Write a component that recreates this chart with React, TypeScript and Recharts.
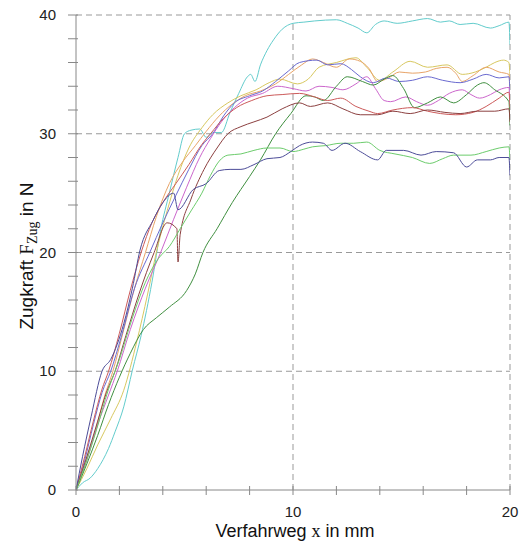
import { LineChart, Line, XAxis, YAxis, ReferenceLine } from "recharts";

const xTicks = [0, 2, 4, 6, 8, 10, 12, 14, 16, 18, 20];
const yTicks = [0, 2, 4, 6, 8, 10, 12, 14, 16, 18, 20, 22, 24, 26, 28, 30, 32, 34, 36, 38, 40];
const xLabels = [0, 10, 20];
const yLabels = [0, 10, 20, 30, 40];
const gridX = [10, 20];
const gridY = [10, 20, 30, 40];

type P = [number, number];

const cyan: P[] = [[0,0],[0.3,0.6],[0.65,1],[1,1.8],[1.5,3.5],[1.8,4.9],[2.2,7],[2.6,10.1],[3,13],[3.5,17.5],[3.9,21.9],[4.3,25],[4.7,28],[5,30],[5.3,30.3],[5.7,30.4],[6,29.7],[6.3,30.1],[6.7,30.1],[7.1,31.8],[7.5,33.4],[7.9,34.8],[8.05,35],[8.25,34.4],[8.5,35.8],[8.8,37],[9.1,37.9],[9.5,38.8],[10,39.3],[10.5,39.4],[11,39.5],[12,39.6],[12.5,39.3],[13,38.9],[13.4,38.5],[13.8,39.2],[14.2,39.5],[14.8,39.3],[15.5,39.5],[16.2,39.7],[16.8,39.4],[17.2,39.5],[17.7,39.2],[18.3,39.3],[19.1,38.9],[19.5,39.1],[19.95,39.4],[20,37.5]];
const yellow: P[] = [[0,0],[0.5,1.8],[1,3.8],[1.6,6],[2.2,8.4],[2.8,12.5],[3.3,16.5],[3.7,20],[4.2,23.5],[4.7,26.5],[5.2,28.8],[5.8,30.5],[6.3,31.6],[7,32.6],[7.6,33.2],[8.3,33.7],[8.9,34.3],[9.4,34.6],[10.2,34.2],[10.7,34.6],[11.2,35.6],[12,36],[12.9,36.4],[13.4,35.6],[14,34.5],[14.6,35.2],[15.4,36.1],[16.2,35.6],[17.1,35.8],[17.8,35],[18.4,35.2],[18.9,35.6],[19.3,36],[19.7,36.2],[19.95,36],[20,34.8]];
const orange: P[] = [[0,0],[0.4,2.2],[0.9,5],[1.3,7.8],[1.7,10],[2.2,13.5],[2.7,17],[3.2,20],[3.7,23],[4.3,25.8],[4.9,27.6],[5.5,29],[6,30.2],[6.6,31.5],[7.2,32.5],[7.8,33.2],[8.5,33.6],[9.2,34.2],[9.8,35],[10.4,35.8],[10.9,36.3],[11.4,36],[12,35.6],[12.6,36.3],[13.1,36.1],[13.5,35.5],[13.9,34.4],[14.4,34.7],[14.9,35.2],[15.5,35.1],[16.1,35.2],[16.6,35.5],[17.1,35.6],[17.5,35.1],[17.8,34.4],[18.3,34.9],[18.9,35.6],[19.5,35.2],[19.95,35],[20,33.9]];
const blue: P[] = [[0,0],[0.4,2.5],[0.8,5.5],[1.2,8.2],[1.6,10],[2.1,13],[2.7,17],[3.4,20],[4,22.5],[4.6,24.8],[5.2,27],[5.8,29],[6.3,30],[6.8,31.5],[7.3,32.6],[8,33.2],[8.6,33.6],[9.2,34.4],[9.8,35.3],[10.3,36],[11.1,36.2],[11.6,35.8],[12.2,35.9],[12.7,35.4],[13.1,34.8],[13.7,34.3],[14.3,34.7],[14.9,34.4],[15.5,34.5],[16.2,34.8],[16.9,34.5],[17.7,34.3],[18.3,34.6],[18.9,35],[19.5,34.7],[19.95,34.8],[20,33.5]];
const magenta: P[] = [[0,0],[0.5,2.5],[1,5.5],[1.5,8],[1.9,10],[2.5,13.5],[3.2,17],[3.9,20],[4.5,22.8],[5.1,25.5],[5.7,28],[6.2,29.6],[6.7,31],[7.3,32.2],[7.9,33],[8.6,33.4],[9.3,34],[10,33.8],[10.6,33.6],[11.2,34],[11.8,33.9],[12.3,33.7],[12.9,34.2],[13.4,34.8],[13.8,33.8],[14.2,32.8],[14.5,32.7],[15.2,33.1],[15.7,32.7],[16.2,32.4],[16.7,32.8],[17.2,33.4],[17.8,33.7],[18.2,33.3],[18.6,33],[19.1,33.3],[19.5,33.7],[19.95,33.9],[20,32.5]];
const darkGreen: P[] = [[0,0],[0.5,2.2],[1,4.6],[1.5,7.2],[2,9.5],[2.5,11.5],[3.1,13.5],[3.7,14.5],[4.3,15.4],[5.1,16.8],[5.5,18.2],[5.85,20],[6.5,22],[7.2,24.2],[8,26.4],[8.5,27.8],[9.2,30],[9.9,31.7],[10.6,33.2],[11,33.1],[11.4,32.8],[12,34],[12.5,34.8],[13.2,34.4],[13.7,34.1],[14.2,34.6],[14.6,34.9],[15.1,33.8],[15.6,32.2],[16.2,32.6],[16.8,33.1],[17.4,32.6],[18,33.3],[18.5,34.1],[18.8,34.3],[19.3,33.7],[19.95,32.7],[20,30.7]];
const red: P[] = [[0,0],[0.4,2.8],[0.8,5.8],[1.2,8.5],[1.5,10],[2,13.2],[2.5,16.8],[3,20],[3.5,22.5],[4,24.2],[4.6,25.8],[5.2,27.4],[5.8,29.1],[6.2,30],[6.8,31.3],[7.4,32.2],[8.1,32.8],[8.8,33.2],[9.5,33.3],[10.3,33.4],[11,33.1],[11.6,32.8],[12.2,33],[12.9,32.3],[13.5,31.9],[13.9,31.7],[14.6,32],[15.5,32.2],[16.2,31.9],[16.8,31.7],[17.5,31.6],[18.3,31.8],[18.9,32.3],[19.5,33],[19.95,33.5],[20,32.2]];
const brown: P[] = [[0,0],[0.5,2.8],[1,5.8],[1.4,8.2],[1.8,10],[2.3,13],[2.9,16.5],[3.6,20],[4.2,22.5],[4.65,22],[4.7,19.2],[4.8,21.5],[5.3,24.5],[5.9,27],[6.5,28.8],[7,30],[7.6,30.6],[8.2,31],[8.8,31.4],[9.5,32.1],[10.3,32.6],[10.8,32.3],[11.6,32.6],[12.3,32.1],[13.1,31.6],[13.9,31.6],[14.6,31.9],[15.4,31.7],[16.2,32],[17,31.8],[17.7,31.7],[18.5,31.9],[19.3,31.9],[19.95,32.1],[20,31]];
const lightGreen: P[] = [[0,0],[0.4,2],[0.9,4.8],[1.5,8.5],[2,11],[2.6,14.5],[3.2,17.5],[3.8,19.5],[4.3,20.5],[4.8,22],[5.3,23.5],[5.8,25],[6.2,26.5],[6.6,27.7],[7,28.2],[7.6,28.3],[8.2,28.6],[8.8,28.8],[9.4,28.8],[10,28.5],[10.5,28.7],[10.9,28.9],[11.5,29],[12.2,29.2],[12.8,29.2],[13.4,29.3],[14,28.6],[14.7,28.3],[15.5,28],[16.3,27.5],[16.9,27.9],[17.4,28.2],[18.2,28.2],[18.9,28.5],[19.5,28.8],[19.95,28.9],[20,27.8]];
const navy: P[] = [[0,0],[0.3,2.8],[0.7,6.2],[1.2,10],[1.6,11],[2.2,14],[2.6,17],[2.95,20.2],[3.55,22.7],[4,24.2],[4.5,25],[4.7,23.6],[5.4,25.3],[6,25.8],[6.6,26.9],[7.1,27],[7.6,27],[8.2,27.4],[8.8,27.9],[9.4,28],[9.9,28.5],[10.3,29],[10.9,29.3],[11.4,29.2],[11.8,28.6],[12.4,29.2],[13.1,28.5],[13.9,27.8],[14.3,28.6],[15.1,28.6],[15.9,28.2],[16.6,28.5],[17.4,28.4],[18,27.2],[18.5,27.8],[19.1,27.8],[19.5,28],[19.95,28],[20,26.5]];

const series = [
  { name: "cyan", pts: cyan, color: "#62cccc" },
  { name: "yellow", pts: yellow, color: "#d8c860" },
  { name: "orange", pts: orange, color: "#e8a468" },
  { name: "blue", pts: blue, color: "#6a6ad0" },
  { name: "magenta", pts: magenta, color: "#cc66cc" },
  { name: "darkGreen", pts: darkGreen, color: "#3f8f3f" },
  { name: "red", pts: red, color: "#cc5a5a" },
  { name: "brown", pts: brown, color: "#8c4040" },
  { name: "lightGreen", pts: lightGreen, color: "#6ccc6c" },
  { name: "navy", pts: navy, color: "#4c4c98" },
];

const axisColor = "#888";

function XTick(props: any) {
  const { x, y, payload } = props;
  const v = payload.value;
  return (
    <g>
      <line x1={x} x2={x} y1={y - 4} y2={y + 5} stroke={axisColor} />
      {xLabels.includes(v) && (
        <text x={x} y={y + 27} textAnchor="middle" fontSize={15} fill="#222" fontFamily="Liberation Sans, Arial, sans-serif">
          {v}
        </text>
      )}
    </g>
  );
}

function YTick(props: any) {
  const { x, y, payload } = props;
  const v = payload.value;
  return (
    <g>
      <line x1={x - 8} x2={x + 2} y1={y} y2={y} stroke={axisColor} />
      {yLabels.includes(v) && (
        <text x={x - 20} y={y + 5} textAnchor="end" fontSize={15} fill="#222" fontFamily="Liberation Sans, Arial, sans-serif">
          {v}
        </text>
      )}
    </g>
  );
}

export default function App() {
  return (
    <div style={{ position: "absolute", left: 0, top: 0, background: "#fff" }}>
      <LineChart width={520} height={545} margin={{ top: 15, right: 10, bottom: 0, left: 0 }}>
        <XAxis
          type="number"
          dataKey="x"
          domain={[0, 20]}
          ticks={xTicks}
          tickSize={0}
          tickMargin={0}
          tickLine={false}
          axisLine={{ stroke: axisColor }}
          tick={<XTick />}
          height={55}
          allowDataOverflow
        />
        <YAxis
          type="number"
          dataKey="y"
          domain={[0, 40]}
          ticks={yTicks}
          tickSize={0}
          tickMargin={0}
          tickLine={false}
          axisLine={{ stroke: axisColor }}
          tick={<YTick />}
          width={76}
          allowDataOverflow
        />
        {gridY.map((v) => (
          <ReferenceLine key={"gy" + v} y={v} stroke="#999" strokeDasharray="6 4" />
        ))}
        {gridX.map((v) => (
          <ReferenceLine key={"gx" + v} x={v} stroke="#999" strokeDasharray="6 4" />
        ))}
        {series.map((s) => (
          <Line
            key={s.name}
            data={s.pts.map(([x, y]) => ({ x, y }))}
            dataKey="y"
            type="monotone"
            stroke={s.color}
            strokeWidth={1}
            dot={false}
            isAnimationActive={false}
          />
        ))}
        <text
          x={295}
          y={537}
          textAnchor="middle"
          fontSize={18}
          fill="#111"
          fontFamily="Liberation Sans, Arial, sans-serif"
        >
          Verfahrweg <tspan fontFamily="Liberation Serif, Times New Roman, serif">x</tspan> in mm
        </text>
        <text
          transform="translate(33,256) rotate(-90)"
          textAnchor="middle"
          fontSize={19}
          fill="#111"
          fontFamily="Liberation Sans, Arial, sans-serif"
        >
          Zugkraft{" "}
          <tspan fontFamily="Liberation Serif, Times New Roman, serif">F</tspan>
          <tspan fontFamily="Liberation Serif, Times New Roman, serif" fontSize={14} dy={4}>
            Zug
          </tspan>
          <tspan dy={-4}> in N</tspan>
        </text>
      </LineChart>
    </div>
  );
}
